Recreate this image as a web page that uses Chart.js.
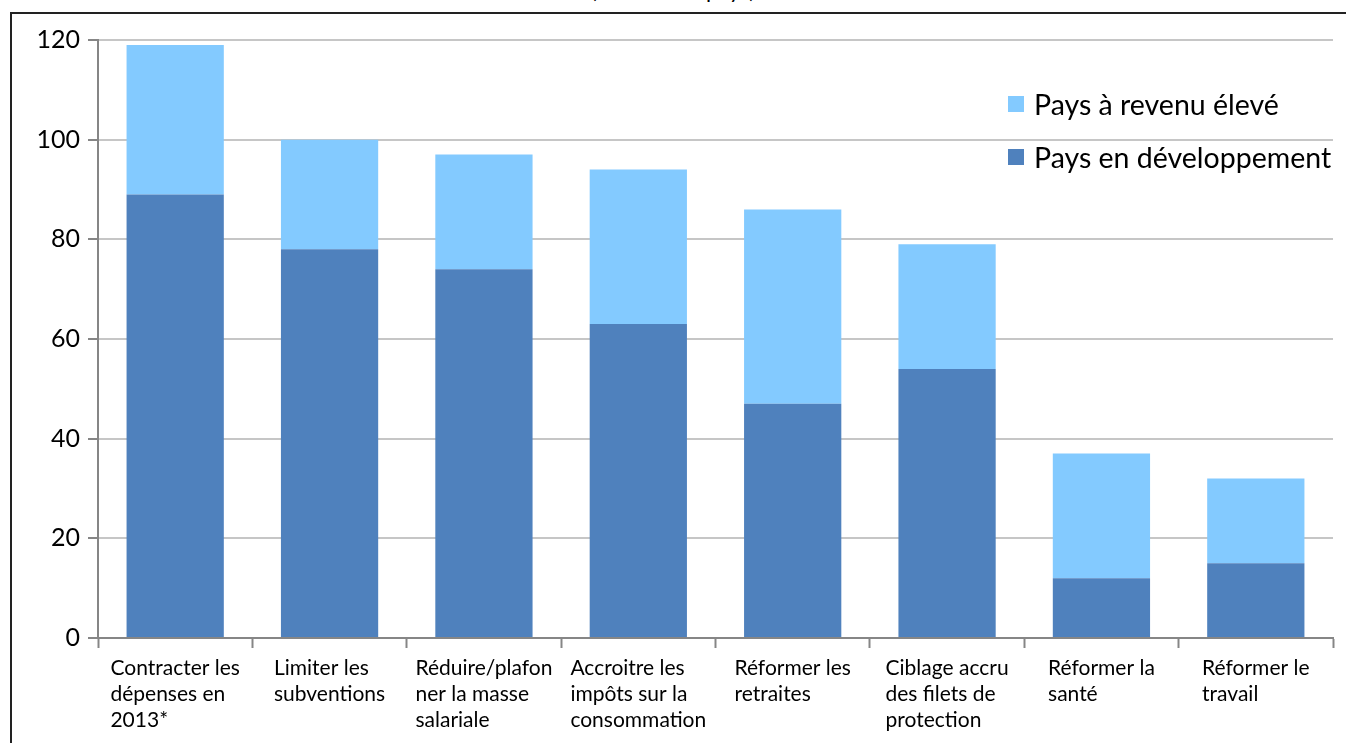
<!DOCTYPE html>
<html>
<head>
<meta charset="utf-8">
<script src="https://cdn.jsdelivr.net/npm/chart.js@4"></script>
<style>
  body { margin:0; background:#fff; }
  #wrap { position:relative; width:1346px; height:743px; overflow:hidden; font-family:Lato, sans-serif; }
  #frame { position:absolute; left:10px; top:12px; width:1400px; height:800px; border-left:2px solid #222; border-top:2px solid #222; }
  #titre { position:absolute; left:0; width:1346px; top:-24px; text-align:center; font-size:22px; color:#000; }
  #legende { position:absolute; left:1008px; top:77px; font-size:28.5px; color:#000; }
  #legende div { height:53px; display:flex; align-items:center; }
  #legende span.carre { display:inline-block; width:16px; height:16px; margin-right:10px; }
  canvas { position:absolute; left:0; top:0; }
</style>
</head>
<body>
<div id="wrap">
  <div id="frame"></div>
  <div id="titre">(nombre de pays)</div>
  <canvas id="myChart" width="1346" height="743"></canvas>
  <div id="legende"></div>
</div>
<script>
//categories
const categories = [
	["Contracter les", "dépenses en", "2013*"],
	["Limiter les", "subventions"],
	["Réduire/plafon", "ner la masse", "salariale"],
	["Accroitre les", "impôts sur la", "consommation"],
	["Réformer les", "retraites"],
	["Ciblage accru", "des filets de", "protection"],
	["Réformer la", "santé"],
	["Réformer le", "travail"]
];
//series
const paysDev = [89, 78, 74, 63, 47, 54, 12, 15];
const paysEleve = [30, 22, 23, 31, 39, 25, 25, 17];
const yTicks = [0, 20, 40, 60, 80, 100, 120];

const ctx = document.getElementById('myChart');

// etiquettes x : bloc centre sur la categorie, lignes alignees a gauche (comme Excel)
const etiquettesX = {
	id: 'etiquettesX',
	afterDraw(chart) {
		const sx = chart.scales.x;
		const c = chart.ctx;
		c.save();
		c.font = '21px Lato';
		c.fillStyle = '#000';
		c.textAlign = 'left';
		c.textBaseline = 'middle';
		chart.data.labels.forEach((lignes, i) => {
			const w = Math.max(...lignes.map(l => c.measureText(l).width));
			const x0 = sx.getPixelForTick(i) - w / 2;
			lignes.forEach((l, j) => {
				c.fillText(l, x0, sx.top + 30 + j * 26);
			});
		});
		c.restore();
	}
};

const chart = new Chart(ctx, {
	type: 'bar',
	data: {
		labels: categories,
		datasets: [
			{ label: 'Pays en développement', data: paysDev, backgroundColor: '#4F81BD' },
			{ label: 'Pays à revenu élevé', data: paysEleve, backgroundColor: '#83CAFF' }
		]
	},
	options: {
		responsive: false,
		animation: false,
		layout: { padding: { left: 0, right: 13, top: 40, bottom: 0 } },
		plugins: { legend: { display: false }, tooltip: { enabled: false } },
		datasets: { bar: { barPercentage: 0.63, categoryPercentage: 1 } },
		scales: {
			x: {
				stacked: true,
				afterFit: (s) => { s.height = 105; s.paddingLeft = 0; s.paddingRight = 0; },
				border: { color: '#868686', width: 2 },
				grid: { offset: true, drawOnChartArea: false, tickLength: 10, tickColor: '#868686', tickWidth: 2 },
				ticks: { display: false, autoSkip: false, maxRotation: 0 }
			},
			y: {
				stacked: true,
				min: 0, max: 120,
				afterFit: (s) => { s.width = 98; },
				afterBuildTicks: (s) => { s.ticks = yTicks.map(v => ({ value: v })); },
				border: { color: '#868686', width: 2 },
				grid: { color: '#c6c6c6', lineWidth: 2, tickLength: 10, tickColor: '#868686' },
				ticks: { padding: 8, color: '#000', font: { family: 'Lato', size: 25 } }
			}
		}
	},
	plugins: [etiquettesX]
});

//legende (ordre inverse)
let html = '';
chart.data.datasets.slice().reverse().forEach((d) => {
	html += `<div><span class="carre" style="background:${d.backgroundColor}"></span>${d.label}</div>`;
});
document.getElementById('legende').innerHTML = html;
</script>
</body>
</html>
